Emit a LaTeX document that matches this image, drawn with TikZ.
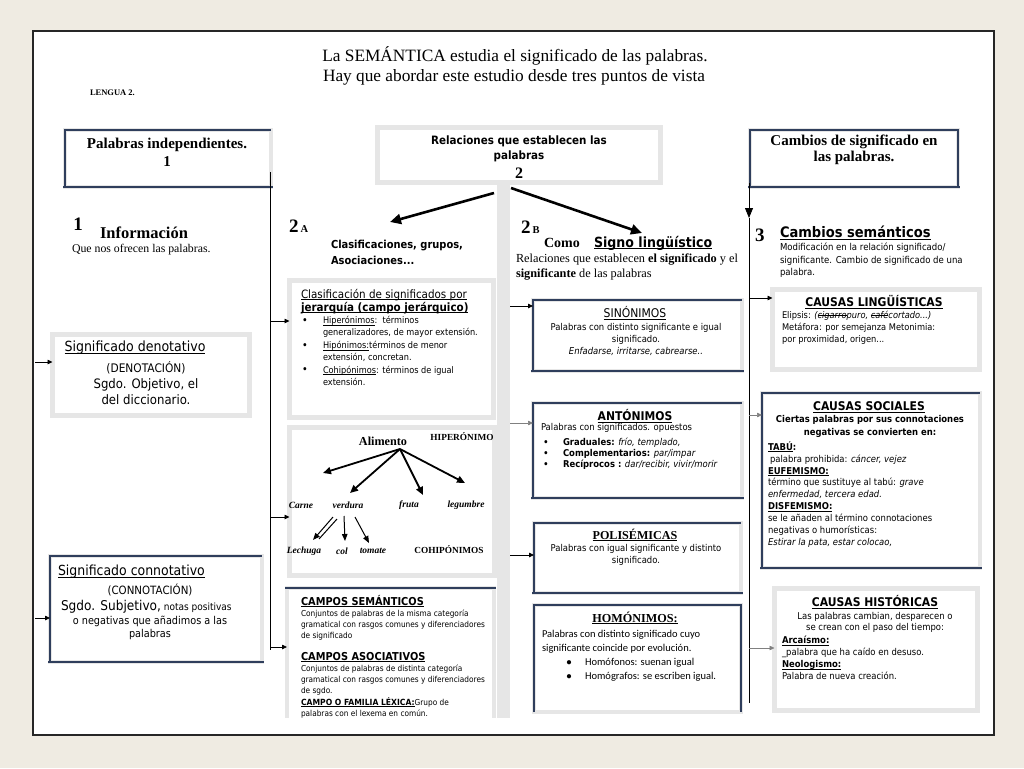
\documentclass[tikz,border=0pt]{standalone}
\usepackage{fontspec}
\setmainfont{Liberation Serif}
\newfontfamily\tahf{DejaVu Sans}[FakeStretch=0.9]
\newfontfamily\calib{Carlito}
\usetikzlibrary{arrows.meta}
\definecolor{navy}{HTML}{2F3E5C}
\definecolor{shadowg}{HTML}{E6E6E6}
\definecolor{bgc}{HTML}{EFEBE2}
\newcommand\fsz[2]{\fontsize{#1}{#2}\selectfont}
\newcommand\uln[1]{\setbox0\hbox{#1}\rlap{\rule[-0.17em]{\wd0}{0.08em}}\box0}
\newcommand\strk[1]{\setbox0\hbox{#1}\rlap{\rule[0.25em]{\wd0}{0.15em}}\box0}
\tikzset{
  every node/.style={inner sep=0pt, outer sep=0pt},
  gbox/.style={draw=shadowg, line width=5pt, fill=white},
  nbox/.style={draw=shadowg, line width=4pt, fill=white},
  nthin/.style={draw=navy, line width=1.3pt},
  nthick/.style={draw=navy, line width=2.8pt},
  conn/.style={line width=0.8pt, draw=black},
  tip/.style={-{Triangle[length=5pt,width=4.5pt]}},
  bigarr/.style={line width=2.6pt, -{Triangle[length=11pt,width=10pt]}},
  treearr/.style={line width=1.8pt, -{Triangle[length=8pt,width=7pt]}},
  smallarr/.style={line width=1pt, -{Triangle[length=7pt,width=5.5pt]}},
}
\begin{document}
\begin{tikzpicture}[x=1pt,y=-1pt]
\useasboundingbox (0,0) rectangle (1024,768);
\fill[bgc] (0,0) rectangle (1024,768);
\node[draw=black!85, line width=1.8pt, fill=white, minimum width=961pt, minimum height=704pt] (page) at (513.5,383) {};

% ---------- title
\node[font={\fsz{17.3}{20}}] (t1) at (515,56) {La SEMÁNTICA estudia el significado de las palabras.};
\node[font={\fsz{17.3}{20}}] (t2) at (514,77) {Hay que abordar este estudio desde tres puntos de vista};
\node[anchor=west, font={\fsz{8.5}{10}\bfseries}] (leng) at (90,93) {LENGUA 2.};

% ---------- middle grey strip
\coordinate (mtop) at (503.5,184);
\coordinate (mbot) at (503.5,718);
\draw[shadowg, line width=13pt] (mtop) -- (mbot);

% ---------- header boxes
\node[nbox, minimum width=206pt, minimum height=57pt] (indep) at (168,158.5) {};
\draw[nthin] (indep.south west) |- (indep.north east);
\draw[nthick] ([xshift=-2pt]indep.south west) -- ([xshift=2pt]indep.south east);
\node[align=center, font={\fsz{15}{18}\bfseries}] (indept) at (167,152) {Palabras independientes.\\1};

\node[gbox, minimum width=283pt, minimum height=55pt] (rel) at (519,155) {};
\node[align=center, font={\fsz{11.5}{15}\tahf\bfseries}] (relt) at (519,148.5) {Relaciones que establecen las\\palabras};
\node[font={\fsz{16}{18}\bfseries}] (rel2) at (519,173) {2};

\node[nbox, minimum width=208pt, minimum height=57pt] (cam) at (854,158.5) {};
\draw[nthin] (cam.south west) |- (cam.north east) -- (cam.south east);
\draw[nthick] ([xshift=-2pt]cam.south west) -- ([xshift=2pt]cam.south east);
\node[align=center, font={\fsz{15}{16}\bfseries}] (camt) at (854,150) {Cambios de significado en\\las palabras.};

% ---------- big arrows from 2
\coordinate (ra) at (494,193);
\coordinate (rae) at (390,222);
\coordinate (rb) at (511,188);
\coordinate (rbe) at (642,233);
\draw[bigarr] (ra) -- (rae);
\draw[bigarr] (rb) -- (rbe);

% ---------- section headings
\node[font={\fsz{19}{20}\bfseries}] (n1) at (78,224) {1};
\node[anchor=west, font={\fsz{16.5}{18}\bfseries}] (info) at (100,233) {Información};
\node[anchor=west, font={\fsz{11.8}{13}}] (infot) at (72,250) {Que nos ofrecen las palabras.};

\node[anchor=base west, font={\fsz{19}{20}\bfseries}] (twoa) at (289,232) {2\hspace{2pt}{\fsz{10.5}{12}A}};
\node[anchor=west, align=left, font={\fsz{11}{15.5}\tahf\bfseries}] (clast) at (331,252.5) {Clasificaciones, grupos,\\Asociaciones...};

\node[anchor=base west, font={\fsz{19}{20}\bfseries}] (twob) at (521,233) {2\hspace{2pt}{\fsz{10.5}{12}B}};
\node[anchor=west, font={\fsz{14}{16}\bfseries}] (como) at (544,243) {Como};
\node[anchor=west, font={\fsz{14}{16}\tahf\bfseries}] (signo) at (594,243) {\uln{Signo lingüístico}};
\node[anchor=west, align=left, font={\fsz{12.3}{15}}] (signot) at (516,267) {Relaciones que establecen \textbf{el significado} y el\\\textbf{significante} de las palabras};

\node[anchor=base west, font={\fsz{19}{20}\bfseries}] (n3) at (755,241) {3};
\node[anchor=west, font={\fsz{14.5}{16}\tahf\bfseries}] (camst) at (780,233) {\uln{Cambios semánticos}};
\node[anchor=west, align=left, font={\fsz{9.5}{12.5}\tahf}] (camsd) at (780,260.5) {Modificación en la relación significado/\\significante. Cambio de significado de una\\palabra.};

% ---------- vertical connector lines
\coordinate (l1a) at (270,172);
\coordinate (l1b) at (270,650);
\draw[conn] (l1a) -- (l1b);
\coordinate (r1a) at (749,183);
\coordinate (r1m) at (749,218);
\coordinate (r1b) at (749,703);
\draw[conn, -{Triangle[length=10pt,width=8pt]}] (r1a) -- (r1m);
\draw[conn] (r1m) -- (r1b);

% ---------- left column boxes
\node[gbox, minimum width=197pt, minimum height=81pt] (den) at (151,375) {};
\node[font={\fsz{14}{15}\tahf}] (dent1) at (135,348) {\uln{Significado denotativo}};
\node[align=center, font={\fsz{13}{16}\tahf}] (dent2) at (146,383) {{\fsz{11.8}{16}(DENOTACIÓN)}\\Sgdo. Objetivo, el\\del diccionario.};
\coordinate (dena) at (35,362);
\draw[conn,tip] (dena) -- (dena -| den.west);

\node[nbox, minimum width=212pt, minimum height=106pt] (con) at (156,609) {};
\draw[nthin] (con.south west) |- (con.north east);
\draw[nthick] ([xshift=-2pt]con.south west) -- ([xshift=2pt]con.south east);
\node[anchor=west, font={\fsz{13.9}{15}\tahf}] (cont1) at (58,572) {\uln{Significado connotativo}};
\node[font={\fsz{11.4}{13}\tahf}] (cont2) at (150,590) {(CONNOTACIÓN)};
\node[anchor=west, font={\tahf}] (cont3) at (61,607) {{\fsz{13.5}{16}Sgdo. Subjetivo,} {\fsz{10}{11}notas positivas}};
\node[align=center, font={\fsz{10.8}{12.5}\tahf}] (cont4) at (150,628) {o negativas que añadimos a las\\palabras};
\coordinate (cona) at (35,618);
\draw[conn,tip] (cona) -- (cona -| con.west);

% ---------- 2A column
\node[gbox, minimum width=204pt, minimum height=137pt] (clas) at (391.5,349) {};
\node[anchor=west, font={\fsz{11.5}{14}\tahf}] (clh1) at (301,295) {\uln{Clasificación de significados por}};
\node[anchor=west, font={\fsz{11.5}{14}\tahf\bfseries}] (clh2) at (301,308) {\uln{jerarquía (campo jerárquico)}};
\node[font={\fsz{9}{10}\tahf\bfseries}] (cb1) at (305,321) {•};
\node[font={\fsz{9}{10}\tahf\bfseries}] (cb2) at (305,346) {•};
\node[font={\fsz{9}{10}\tahf\bfseries}] (cb3) at (305,370) {•};
\node[anchor=west, align=left, font={\fsz{9.1}{12}\tahf}] (cli1) at (323,327) {\uln{Hiperónimos}:\ \ términos\\generalizadores, de mayor extensión.};
\node[anchor=west, align=left, font={\fsz{9.1}{11.5}\tahf}] (cli2) at (323,351.5) {\uln{Hipónimos:} términos de menor\\extensión, concretan.};
\node[anchor=west, align=left, font={\fsz{9.1}{12}\tahf}] (cli3) at (323,376) {\uln{Cohipónimos}: términos de igual\\extensión.};
\coordinate (l1c) at (270,321);
\draw[conn,tip] (l1c) -- (l1c -| clas.west);

\node[gbox, minimum width=205pt, minimum height=148pt] (tree) at (392,501.5) {};
\node[font={\fsz{12.2}{14}\bfseries}] (alim) at (383,441) {Alimento};
\node[font={\fsz{9.3}{11}\bfseries}] (hiper) at (462,437) {HIPERÓNIMO};
\node[font={\fsz{9.5}{11}\bfseries\itshape}] (carne) at (301,505) {Carne};
\node[font={\fsz{9.5}{11}\bfseries\itshape}] (verd) at (348,505) {verdura};
\node[font={\fsz{9.5}{11}\bfseries\itshape}] (fruta) at (409,505) {fruta};
\node[font={\fsz{9.5}{11}\bfseries\itshape}] (leg) at (466,505) {legumbre};
\node[font={\fsz{9.5}{11}\bfseries\itshape}] (lech) at (304,551) {Lechuga};
\node[font={\fsz{9.5}{11}\bfseries\itshape}] (col) at (342,551) {col};
\node[font={\fsz{9.5}{11}\bfseries\itshape}] (tom) at (373,551) {tomate};
\node[font={\fsz{9.3}{11}\bfseries}] (cohip) at (449,550) {COHIPÓNIMOS};
\coordinate (alo) at (400,449);
\coordinate (ta1) at (323,473);
\coordinate (ta2) at (350,493);
\coordinate (ta3) at (423,495);
\coordinate (ta4) at (465,483);
\draw[treearr] (alo) -- (ta1);
\draw[treearr] (alo) -- (ta2);
\draw[treearr] (alo) -- (ta3);
\draw[treearr] (alo) -- (ta4);
\coordinate (v1s) at (333,517);
\coordinate (v1e) at (313,540);
\coordinate (v1t) at (319,539);
\coordinate (v1u) at (337,519);
\coordinate (v2s) at (344,516);
\coordinate (v2e) at (345,541);
\coordinate (v3s) at (355,517);
\coordinate (v3e) at (369,543);
\draw[smallarr] (v1s) -- (v1e);
\draw[line width=1pt] (v1u) -- (v1t);
\draw[smallarr] (v2s) -- (v2e);
\draw[smallarr] (v3s) -- (v3e);
\coordinate (l1d) at (270,517);
\draw[conn,tip] (l1d) -- (l1d -| tree.west);

\begin{scope}
\clip (280,575) rectangle (505,717);
\node[nbox, minimum width=207pt, minimum height=142pt] (camp) at (390.5,659) {};
\draw[nthick] ([xshift=-2pt]camp.north west) -- ([xshift=2pt]camp.north east);
\node[anchor=west, font={\fsz{10.9}{13}\tahf\bfseries}] (cs1) at (301,601) {\uln{CAMPOS SEMÁNTICOS}};
\node[anchor=west, align=left, font={\fsz{8.2}{11}\tahf}] (cs2) at (301,625) {Conjuntos de palabras de la misma categoría\\gramatical con rasgos comunes y diferenciadores\\de significado};
\node[anchor=west, font={\fsz{10.9}{13}\tahf\bfseries}] (cs3) at (301,657) {\uln{CAMPOS ASOCIATIVOS}};
\node[anchor=west, align=left, font={\fsz{8.2}{11}\tahf}] (cs4) at (301,680) {Conjuntos de palabras de distinta categoría\\gramatical con rasgos comunes y diferenciadores\\de sgdo.};
\node[anchor=west, align=left, font={\fsz{8.2}{11}\tahf}] (cs5) at (301,707.5) {{\fsz{8.5}{11}\bfseries\uln{CAMPO O FAMILIA LÉXICA:}}Grupo de\\palabras con el lexema en común.};
\end{scope}
\coordinate (l1e) at (270,647);
\draw[conn,tip] (l1e) -- (l1e -| camp.west);

% ---------- 2B column
\node[nbox, minimum width=209pt, minimum height=71pt] (sin) at (637.5,335.5) {};
\draw[nthin] (sin.south west) |- (sin.north east);
\draw[nthick] ([xshift=-2pt]sin.south west) -- ([xshift=2pt]sin.south east);
\node[font={\fsz{12}{14}\tahf}] (sint) at (635,313) {\uln{SINÓNIMOS}};
\node[align=center, font={\fsz{9.4}{12}\tahf}] (sinb) at (636,339) {Palabras con distinto significante e igual\\significado.\\\textit{Enfadarse, irritarse, cabrearse..}};
\coordinate (m1) at (510,306);
\draw[conn,tip] (m1) -- (m1 -| sin.west);

\node[nbox, minimum width=209pt, minimum height=95pt] (ant) at (637.5,450.5) {};
\draw[nthin] (ant.south west) |- (ant.north east);
\draw[nthick] ([xshift=-2pt]ant.south west) -- ([xshift=2pt]ant.south east);
\node[font={\fsz{12}{14}\tahf\bfseries}] (antt) at (635,416) {\uln{ANTÓNIMOS}};
\node[anchor=west, font={\fsz{9.4}{12}\tahf}] (antb) at (541,428) {Palabras con significados. opuestos};
\node[font={\fsz{9}{10}\tahf\bfseries}] (ab1) at (546,443) {•};
\node[font={\fsz{9}{10}\tahf\bfseries}] (ab2) at (546,454) {•};
\node[font={\fsz{9}{10}\tahf\bfseries}] (ab3) at (546,465) {•};
\node[anchor=west, align=left, font={\fsz{9.4}{11}\tahf}] (antl) at (563,454) {\textbf{Graduales:} \textit{frío, templado,}\\\textbf{Complementarios:} \textit{par/impar}\\\textbf{Recíprocos :} \textit{dar/recibir, vivir/morir}};
\coordinate (m2) at (510,423);
\draw[gray, line width=0.6pt, tip] (m2) -- (m2 -| ant.west);

\node[nbox, minimum width=207pt, minimum height=70pt] (pol) at (637.5,558) {};
\draw[nthin] (pol.south west) |- (pol.north east);
\draw[nthick] ([xshift=-2pt]pol.south west) -- ([xshift=2pt]pol.south east);
\node[font={\fsz{12.1}{14}\bfseries}] (polt) at (635,535) {\uln{POLISÉMICAS}};
\node[align=center, font={\fsz{9.4}{11.5}\tahf}] (polb) at (636,555) {Palabras con igual significante y distinto\\significado.};
\coordinate (m3) at (510,555);
\draw[conn,tip] (m3) -- (m3 -| pol.west);

\node[nbox, minimum width=207pt, minimum height=107pt] (hom) at (637.5,658.5) {};
\draw[nthin] (hom.south west) |- (hom.north east) -- (hom.south east);
\node[font={\fsz{12.2}{14}\bfseries}] (homt) at (635,618) {\uln{HOMÓNIMOS:}};
\node[anchor=west, align=left, font={\fsz{10.5}{13.5}\calib}] (homb) at (542,641.5) {Palabras con distinto significado cuyo\\significante coincide por evolución.};
\node[font={\fsz{10}{10}\calib\bfseries}] (hb1) at (569,663) {•};
\node[font={\fsz{10}{10}\calib\bfseries}] (hb2) at (569,677) {•};
\node[anchor=west, align=left, font={\fsz{10.5}{14}\calib}] (homl) at (585,670) {Homófonos: suenan igual\\Homógrafos: se escriben igual.};

% ---------- right column
\node[gbox, minimum width=207pt, minimum height=80pt] (ling) at (876,329.5) {};
\node[font={\fsz{12}{14}\tahf\bfseries}] (lingt) at (874,302) {\uln{CAUSAS LINGÜÍSTICAS}};
\node[anchor=west, align=left, font={\fsz{9.2}{12}\tahf}] (lingb) at (782,328) {Elipsis: \textit{(\strk{cigarro} puro, \strk{café} cortado...)}\\Metáfora: por semejanza Metonimia:\\por proximidad, origen...};
\coordinate (r1c) at (749,298);
\draw[conn,tip] (r1c) -- (r1c -| ling.west);

\node[nbox, minimum width=218pt, minimum height=175pt] (soc) at (871,480.5) {};
\draw[nthin] (soc.south west) |- (soc.north east);
\draw[nthick] ([xshift=-2pt]soc.south west) -- ([xshift=2pt]soc.south east);
\node[font={\fsz{12}{14}\tahf\bfseries}] (soct) at (869,407) {\uln{CAUSAS SOCIALES}};
\node[align=center, font={\fsz{9.4}{13}\tahf\bfseries}] (socs) at (870,426.5) {Ciertas palabras por sus connotaciones\\negativas se convierten en:};
\node[anchor=west, align=left, font={\fsz{9.4}{11.9}\tahf}] (socb) at (768,494.5) {\textbf{\uln{TABÚ}:}\\\hspace*{2pt}palabra prohibida: \textit{cáncer, vejez}\\\textbf{\uln{EUFEMISMO:}}\\término que sustituye al tabú: \textit{grave}\\\textit{enfermedad, tercera edad.}\\\textbf{\uln{DISFEMISMO:}}\\se le añaden al término connotaciones\\negativas o humorísticas:\\\textit{Estirar la pata, estar colocao,}};
\coordinate (r1d) at (749,415);
\draw[gray, line width=0.6pt, tip] (r1d) -- (r1d -| soc.west);

\node[gbox, minimum width=203pt, minimum height=122pt] (hist) at (876,649.5) {};
\node[font={\fsz{12}{14}\tahf\bfseries}] (histt) at (875,602) {\uln{CAUSAS HISTÓRICAS}};
\node[align=center, font={\fsz{9.4}{11.5}\tahf}] (hists) at (875,622.5) {Las palabras cambian, desparecen o\\se crean con el paso del tiempo:};
\node[anchor=west, align=left, font={\fsz{9.4}{12}\tahf}] (histb) at (782,658) {\textbf{\uln{Arcaísmo:}}\\\_palabra que ha caído en desuso.\\\textbf{\uln{Neologismo:}}\\Palabra de nueva creación.};
\coordinate (r1e) at (749,648);
\draw[gray, line width=0.6pt, tip] (r1e) -- (r1e -| hist.west);
\end{tikzpicture}
\end{document}
